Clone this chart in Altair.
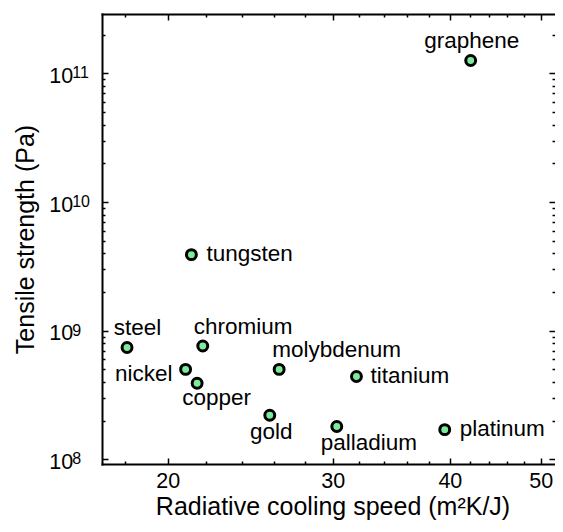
import altair as alt
import pandas as pd

# ---- data ----
materials = ["graphene", "tungsten", "steel", "chromium", "nickel", "copper",
             "molybdenum", "titanium", "gold", "palladium", "platinum"]
cooling_speed = [42.1, 21.2, 18.1, 21.8, 20.9, 21.5, 26.3, 31.8, 25.7, 30.3, 39.5]
tensile_strength = [1.26e11, 3.9e9, 7.4e8, 7.6e8, 5.0e8, 3.9e8, 5.0e8, 4.4e8, 2.2e8, 1.8e8, 1.7e8]

x_major = [20, 30, 40, 50]
x_minor = [18, 22, 24, 26, 28, 32, 34, 36, 38, 42, 44, 46, 48]
y_major = [1e8, 1e9, 1e10, 1e11]
y_minor = [2e8, 3e8, 4e8, 5e8, 6e8, 7e8, 8e8, 9e8,
           2e9, 3e9, 4e9, 5e9, 6e9, 7e9, 8e9, 9e9,
           2e10, 3e10, 4e10, 5e10, 6e10, 7e10, 8e10, 9e10, 2e11]

x_domain = [17.02, 51.79]
y_domain = [9.19e7, 2.9e11]

df = pd.DataFrame({"material": materials, "speed": cooling_speed, "strength": tensile_strength})

# ---- styling ----
FONT = "Liberation Sans"
W, H = 453, 450
MAJ, MIN = 6, 3

xs = alt.Scale(type="log", domain=x_domain, nice=False)
ys = alt.Scale(type="log", domain=y_domain, nice=False)


def tick_axis(orient, values, size, **kw):
    base = dict(orient=orient, values=values, tickSize=size, offset=-size, domain=False,
                grid=False, labels=False, ticks=True, tickColor="black", tickWidth=1.5)
    base.update(kw)
    return alt.Axis(**base)


def frame_axis(orient):
    return alt.Axis(orient=orient, domain=True, domainColor="black", domainWidth=2,
                    domainCap="square", ticks=False, labels=False, grid=False, offset=0)


base = alt.Chart(df)

bottom_major = tick_axis("bottom", x_major, MAJ, labels=True, format="d", labelFontSize=21.5,
                         labelPadding=6, labelFlush=False, labelOverlap=False,
                         titleFontSize=25, titleBaseline="alphabetic", titleX=461 / 2, titleY=56)
left_major = tick_axis("left", y_major, MAJ, labels=True, labelExpr="'10'", labelFontSize=21.5,
                       labelPadding=29.3, labelOffset=3, labelFlush=False, labelOverlap=False,
                       titleFontSize=25, titleBaseline="alphabetic", titleX=-75, titleY=H / 2)

points = base.mark_circle(fill="#7ceb9a", stroke="black", strokeWidth=3, size=98, opacity=1).encode(
    x=alt.X("speed:Q", scale=xs, title="Radiative cooling speed (m²K/J)", axis=bottom_major),
    y=alt.Y("strength:Q", scale=ys, title="Tensile strength (Pa)", axis=left_major),
)

minor_bl = base.mark_point(opacity=0).encode(
    x=alt.X("speed:Q", scale=xs, title=None, axis=tick_axis("bottom", x_minor, MIN)),
    y=alt.Y("strength:Q", scale=ys, title=None, axis=tick_axis("left", y_minor, MIN)),
)
major_tr = base.mark_point(opacity=0).encode(
    x=alt.X("speed:Q", scale=xs, title=None, axis=tick_axis("top", x_major, MAJ)),
    y=alt.Y("strength:Q", scale=ys, title=None, axis=tick_axis("right", y_major, MAJ)),
)
minor_tr = base.mark_point(opacity=0).encode(
    x=alt.X("speed:Q", scale=xs, title=None, axis=tick_axis("top", x_minor, MIN)),
    y=alt.Y("strength:Q", scale=ys, title=None, axis=tick_axis("right", y_minor, MIN)),
)
frame_bl = base.mark_point(opacity=0).encode(
    x=alt.X("speed:Q", scale=xs, title=None, axis=frame_axis("bottom")),
    y=alt.Y("strength:Q", scale=ys, title=None, axis=frame_axis("left")),
)
exponents = base.mark_point(opacity=0).encode(
    x=alt.X("speed:Q", scale=xs, title=None, axis=frame_axis("top")),
    y=alt.Y("strength:Q", scale=ys, title=None,
            axis=alt.Axis(orient="left", values=y_major, ticks=False, tickSize=0, domain=False,
                          grid=False, labelExpr="format(round(log(datum.value)/LN10), 'd')",
                          labelFontSize=16, labelAlign="left", labelPadding=30.3, labelOffset=-0.5,
                          labelFlush=False, labelOverlap=False)),
)

# label placement (style): align, dx, dy
placement = {
    "graphene": ("center", 1, -13),
    "tungsten": ("left", 15, 6),
    "steel": ("center", 10.5, -12),
    "chromium": ("left", -9, -12.5),
    "nickel": ("right", -13, 12),
    "copper": ("center", 19.5, 22),
    "molybdenum": ("left", -7, -12.5),
    "titanium": ("left", 14, 6),
    "gold": ("center", 1.5, 23.5),
    "palladium": ("center", 32, 24),
    "platinum": ("left", 15, 6),
}

text_layers = []
for name in materials:
    al, dx, dy = placement[name]
    text_layers.append(
        base.transform_filter(alt.datum.material == name)
        .mark_text(align=al, dx=dx, dy=dy, baseline="alphabetic", fontSize=22.5, font=FONT, color="black")
        .encode(
            x=alt.X("speed:Q", scale=xs, axis=None),
            y=alt.Y("strength:Q", scale=ys, axis=None),
            text="material:N",
        )
    )

chart = (
    alt.layer(frame_bl, points, minor_bl, major_tr, minor_tr, exponents, *text_layers)
    .resolve_axis(x="independent", y="independent")
    .properties(width=W, height=H, autosize=alt.AutoSizeParams(type="none"),
                padding={"left": 94, "top": 6, "right": 0, "bottom": 56}, background="white")
    .configure_view(strokeWidth=0)
    .configure_axis(labelFont=FONT, titleFont=FONT, labelColor="black", titleColor="black",
                    titleFontWeight="normal")
)

chart.save("out.html", embed_options={"renderer": "svg", "actions": False})
